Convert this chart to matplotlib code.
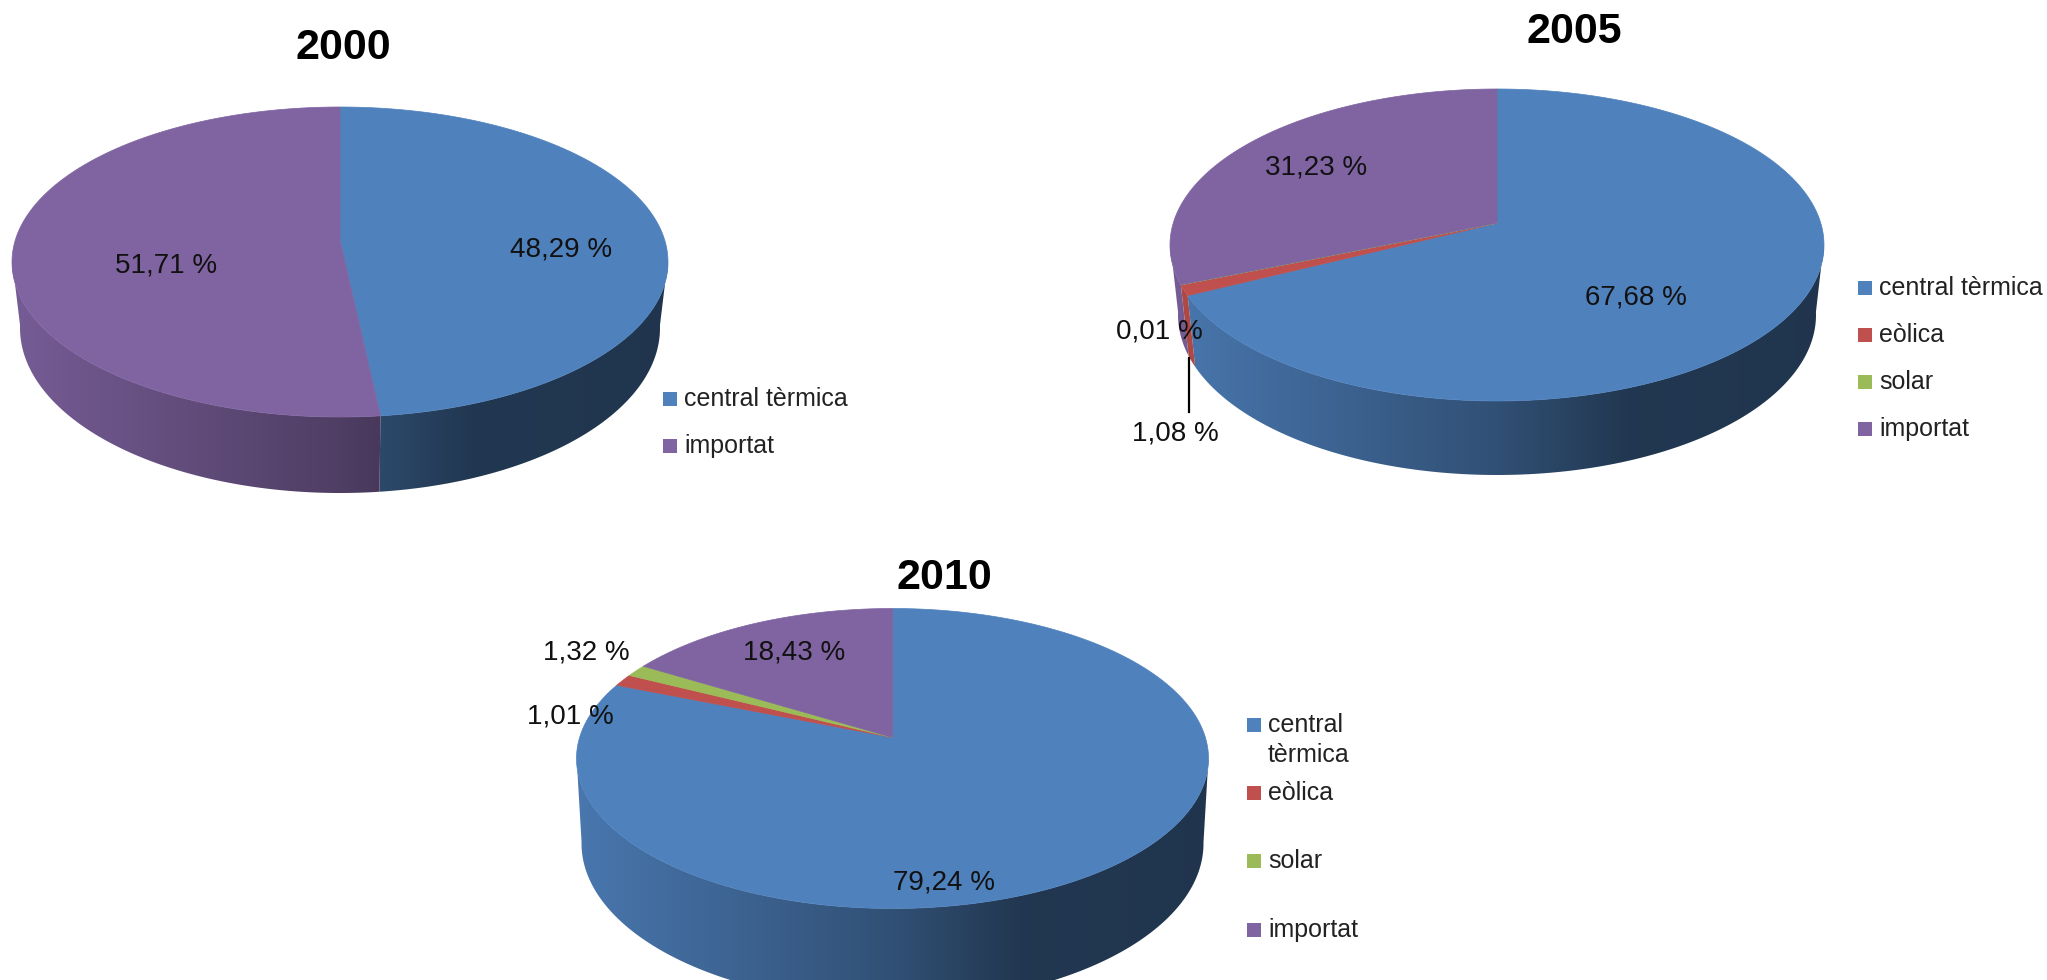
import numpy as np
import matplotlib
matplotlib.use('Agg')
import matplotlib.pyplot as plt
from matplotlib.patches import Polygon, Rectangle

plt.rcParams['font.family'] = ['Liberation Sans', 'DejaVu Sans']

categorias = ['central tèrmica', 'eòlica', 'solar', 'importat']
colores = ['#4F81BD', '#C0504D', '#9BBB59', '#8064A2']

# valors de les etiquetes
etiquetes_2000 = ['48,29 %', '51,71 %']
etiquetes_2005 = ['67,68 %', '0,01 %', '1,08 %', '31,23 %']
etiquetes_2010 = ['79,24 %', '1,01 %', '1,32 %', '18,43 %']

# parts tal com estan dibuixades (al 2010 el dibuix no coincideix amb l'etiqueta)
valors_2000 = [48.29, 0, 0, 51.71]
valors_2005 = [67.68, 1.08, 0.01, 31.23]
valors_2010 = [81.1, 1.3, 1.3, 16.3]

W, H = 2047, 980
fig = plt.figure(figsize=(W / 100, H / 100), dpi=100)
ax = fig.add_axes([0, 0, 1, 1])


def vora(angle, p):
    # punt de la vora en coordenades d'el·lipse, amb perspectiva p
    u, v = np.sin(angle), np.cos(angle)
    d = 1 + p * v
    return u / d * np.sqrt(1 - p ** 2), v / d * (1 - p ** 2) + p


def ombra(x):
    return np.interp(x, [-1, 0, 0.4, 1], [0.92, 0.62, 0.43, 0.41])


def pastis(valors, cx, cy, rx, ry, rx_b, ry_b, prof, p=0.14):
    limits = np.concatenate(([0], np.cumsum(valors))) / np.sum(valors) * 2 * np.pi
    for i, color in enumerate(colores):
        if valors[i] == 0:
            continue
        a = np.linspace(limits[i], limits[i + 1], 300)
        X, Y = vora(a, p)
        # paret lateral amb degradat
        m = Y <= 0.02
        if m.sum() > 1:
            xs = np.concatenate((cx + X[m] * rx, (cx + X[m] * rx_b)[::-1]))
            ys = np.concatenate((cy - Y[m] * ry, (cy + prof - Y[m] * ry_b)[::-1]))
            grad = np.linspace(-1, 1, 400)
            rgb = np.array(matplotlib.colors.to_rgb(color))
            img = (ombra(grad)[:, None] * rgb)[None, :, :]
            im = ax.imshow(img, extent=[cx - rx, cx + rx, cy + prof + ry_b, cy - ry],
                           aspect='auto', zorder=1, interpolation='bilinear')
            pol = Polygon(np.c_[xs, ys], closed=True, transform=ax.transData, fc='none', ec='none')
            ax.add_patch(pol)
            im.set_clip_path(pol)
    for i, color in enumerate(colores):
        if valors[i] == 0:
            continue
        a = np.linspace(limits[i], limits[i + 1], 300)
        X, Y = vora(a, p)
        xs = np.concatenate(([cx], cx + X * rx))
        ys = np.concatenate(([cy - p * ry], cy - Y * ry))
        ax.add_patch(Polygon(np.c_[xs, ys], closed=True, fc=color, ec=color, lw=0.5, zorder=2))


def llegenda(noms, cols, x, ys, mida=14):
    for nom, c, y in zip(noms, cols, ys):
        ax.add_patch(Rectangle((x, y - mida / 2), mida, mida, fc=c, ec='none', zorder=3))
        ax.text(x + 21, y, nom, fontsize=18, color='#222222', va='center', ha='left', zorder=4)


def text_val(x, y, s):
    ax.text(x, y, s, fontsize=20, color='#111111', ha='center', va='center', zorder=5)


pastis(valors_2000, 340, 262, 328, 155, 320, 165, 66)
pastis(valors_2005, 1497, 245, 327, 156, 319, 160, 70)
pastis(valors_2010, 892.5, 758.5, 316, 150, 311, 160, 85)

for x, y, s in [(343, 48, '2000'), (1574, 32, '2005'), (944, 578, '2010')]:
    ax.text(x, y, s, fontsize=31, fontweight='bold', ha='center', va='center', zorder=5)

text_val(561, 249, etiquetes_2000[0])
text_val(166, 265, etiquetes_2000[1])

text_val(1636, 297, etiquetes_2005[0])
text_val(1159, 331, etiquetes_2005[1])
text_val(1175, 433, etiquetes_2005[2])
text_val(1316, 167, etiquetes_2005[3])
ax.plot([1189, 1189], [358, 412], color='black', lw=1.6, zorder=4)

text_val(944, 882, etiquetes_2010[0])
text_val(570, 716, etiquetes_2010[1])
text_val(586, 652, etiquetes_2010[2])
text_val(794, 652, etiquetes_2010[3])

llegenda([categorias[0], categorias[3]], [colores[0], colores[3]], 663, [399, 446])
llegenda(categorias, colores, 1858, [288, 335, 382, 429])
llegenda(['central', 'eòlica', 'solar', 'importat'], colores, 1247, [725, 793, 861, 930])
ax.text(1268, 755, 'tèrmica', fontsize=18, color='#222222', va='center', ha='left', zorder=4)

ax.set_xlim(0, W)
ax.set_ylim(H, 0)
ax.axis('off')
fig.savefig('out.png', dpi=100, facecolor='white')
